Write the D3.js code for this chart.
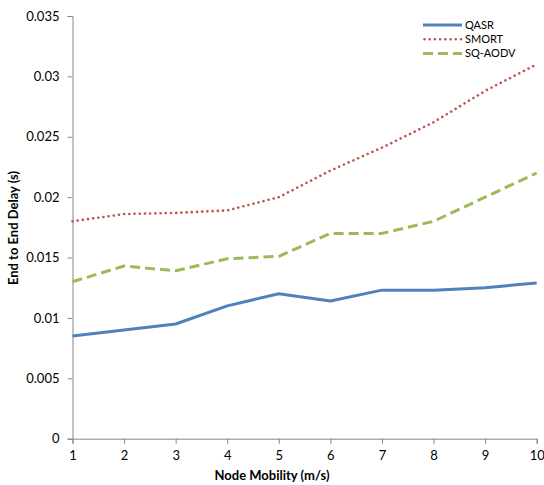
<!DOCTYPE html>
<html>
<head>
<meta charset="utf-8">
<script src="https://cdn.jsdelivr.net/npm/d3@7"></script>
<style>
  body { margin: 0; background: #fff; }
  svg text { font-family: Lato, "Open Sans", sans-serif; fill: #000; }
</style>
</head>
<body>
<div id="chart"></div>
<script>
const mobility = [1, 2, 3, 4, 5, 6, 7, 8, 9, 10];
const qasr   = [0.0085, 0.0090, 0.0095, 0.0110, 0.0120, 0.0114, 0.0123, 0.0123, 0.0125, 0.0129];
const smort  = [0.0180, 0.0186, 0.0187, 0.0189, 0.0200, 0.0222, 0.0241, 0.0262, 0.0288, 0.0310];
const sqaodv = [0.0130, 0.0143, 0.0139, 0.0149, 0.0151, 0.0170, 0.0170, 0.0180, 0.0200, 0.0220];
const yTicks = [0, 0.005, 0.01, 0.015, 0.02, 0.025, 0.03, 0.035];

const series = [
  { name: 'QASR',    vals: qasr,   color: '#4F81BD', width: 3,   dash: null },
  { name: 'SMORT',   vals: smort,  color: '#C0504D', width: 2.6, dash: '0.01,5.2' },
  { name: 'SQ-AODV', vals: sqaodv, color: '#9BBB59', width: 3,   dash: '10,5' }
];

const width = 544, height = 485;
const svg = d3.select('#chart').append('svg')
  .attr('width', width)
  .attr('height', height);

const x = d3.scaleLinear().domain([1, 10]).range([72.5, 536.7]);
const y = d3.scaleLinear().domain([0, 0.035]).range([438.7, 16]);

// axes
const yAxis = svg.append('g')
  .attr('transform', `translate(${x(1)},0)`)
  .call(d3.axisLeft(y).tickValues(yTicks).tickSize(5).tickPadding(8)
    .tickFormat(d => String(+d.toFixed(3))));

const xAxis = svg.append('g')
  .attr('transform', `translate(0,${y(0)})`)
  .call(d3.axisBottom(x).tickValues(mobility).tickSize(5).tickPadding(7)
    .tickFormat(d3.format('d')));

[yAxis, xAxis].forEach(a => {
  a.select('.domain').attr('stroke', '#868686');
  a.selectAll('.tick line').attr('stroke', '#868686');
  a.selectAll('.tick text')
    .attr('font-family', 'Lato, sans-serif')
    .attr('font-size', '13px')
    .attr('fill', '#000');
});

// lines
const line = d3.line()
  .x((d, i) => x(mobility[i]))
  .y(d => y(d));

svg.selectAll('path.series')
  .data(series)
  .enter()
  .append('path')
  .attr('class', 'series')
  .attr('d', d => line(d.vals))
  .attr('fill', 'none')
  .attr('stroke', d => d.color)
  .attr('stroke-width', d => d.width)
  .attr('stroke-dasharray', d => d.dash)
  .attr('stroke-linecap', d => d.name === 'SMORT' ? 'round' : 'butt')
  .attr('stroke-linejoin', 'round');

// axis titles
svg.append('text')
  .attr('x', 272)
  .attr('y', 480)
  .attr('text-anchor', 'middle')
  .attr('font-size', '13px')
  .attr('font-weight', 'bold')
  .text('Node Mobility (m/s)');

svg.append('text')
  .attr('transform', 'translate(18,228) rotate(-90)')
  .attr('text-anchor', 'middle')
  .attr('font-size', '13px')
  .attr('font-weight', 'bold')
  .text('End to End Delay (s)');

// legend
const legend = svg.append('g')
  .selectAll('g')
  .data(series)
  .enter()
  .append('g')
  .attr('transform', (d, i) => `translate(423,${25 + i * 14.2})`);

legend.append('line')
  .attr('x1', d => d.name === 'SMORT' ? 1.5 : 0)
  .attr('x2', 39)
  .attr('stroke', d => d.color)
  .attr('stroke-width', d => d.width)
  .attr('stroke-dasharray', d => d.dash)
  .attr('stroke-linecap', d => d.name === 'SMORT' ? 'round' : 'butt');

legend.append('text')
  .attr('x', 42)
  .attr('dy', '0.35em')
  .attr('font-size', '11px')
  .text(d => d.name);
</script>
</body>
</html>
